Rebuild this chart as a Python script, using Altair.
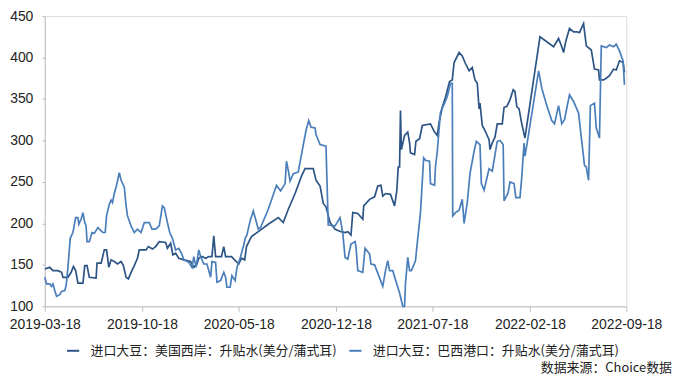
import altair as alt
import pandas as pd

# ---- data ----
series_names = [
    "进口大豆：美国西岸：升贴水(美分/蒲式耳)",
    "进口大豆：巴西港口：升贴水(美分/蒲式耳)",
]
series_colors = ["#2C5485", "#4A7EBB"]

us_dates = [
    "2019-03-18", "2019-03-29", "2019-04-05", "2019-04-16", "2019-04-24", "2019-04-27",
    "2019-05-08", "2019-05-15", "2019-05-20", "2019-05-25", "2019-05-30", "2019-06-10",
    "2019-06-14", "2019-06-19", "2019-06-24", "2019-07-09", "2019-07-11", "2019-07-20",
    "2019-07-27", "2019-08-01", "2019-08-06", "2019-08-11", "2019-08-18", "2019-08-25",
    "2019-09-02", "2019-09-07", "2019-09-13", "2019-09-18", "2019-09-24", "2019-10-01",
    "2019-10-08", "2019-10-12", "2019-10-27", "2019-11-01", "2019-11-10", "2019-11-17",
    "2019-11-25", "2019-12-09", "2019-12-13", "2019-12-20", "2019-12-25", "2019-12-31",
    "2020-01-07", "2020-01-18", "2020-02-02", "2020-02-09", "2020-02-16", "2020-02-20",
    "2020-02-27", "2020-03-06", "2020-03-13", "2020-03-20", "2020-03-24", "2020-03-28",
    "2020-04-10", "2020-04-15", "2020-04-19", "2020-05-02", "2020-05-18", "2020-05-24",
    "2020-05-31", "2020-06-04", "2020-06-15", "2020-06-30", "2020-07-22", "2020-08-13",
    "2020-08-24", "2020-09-04", "2020-09-19", "2020-10-03", "2020-10-11", "2020-10-29",
    "2020-11-04", "2020-11-13", "2020-11-20", "2020-11-26", "2020-12-05", "2020-12-16",
    "2020-12-29", "2021-01-07", "2021-01-13", "2021-01-20", "2021-01-24", "2021-02-04",
    "2021-02-15", "2021-02-17", "2021-03-02", "2021-03-13", "2021-03-20", "2021-03-27",
    "2021-03-31", "2021-04-06", "2021-04-17", "2021-04-26", "2021-05-01", "2021-05-04",
    "2021-05-07", "2021-05-09", "2021-05-11", "2021-05-18", "2021-05-25", "2021-05-29",
    "2021-05-31", "2021-06-09", "2021-06-12", "2021-06-20", "2021-06-26", "2021-07-14",
    "2021-07-23", "2021-07-29", "2021-08-02", "2021-08-09", "2021-08-16", "2021-08-25",
    "2021-08-31", "2021-09-04", "2021-09-15", "2021-09-22", "2021-09-28", "2021-10-07",
    "2021-10-14", "2021-10-20", "2021-10-25", "2021-10-29", "2021-10-31", "2021-11-05",
    "2021-11-11", "2021-11-20", "2021-11-22", "2021-11-27", "2021-12-03", "2021-12-08",
    "2021-12-19", "2021-12-23", "2021-12-29", "2022-01-05", "2022-01-12", "2022-01-16",
    "2022-01-20", "2022-01-25", "2022-01-31", "2022-02-07", "2022-03-12", "2022-04-11",
    "2022-04-22", "2022-04-29", "2022-05-03", "2022-05-08", "2022-05-16", "2022-05-25",
    "2022-06-01", "2022-06-07", "2022-06-16", "2022-06-22", "2022-07-03", "2022-07-10",
    "2022-07-19", "2022-07-21", "2022-07-30", "2022-08-05", "2022-08-12", "2022-08-21",
    "2022-08-27", "2022-09-03", "2022-09-11", "2022-09-14",
]
us_values = [
    145, 147, 143, 143, 141, 135,
    135, 141, 148, 143, 128, 128,
    149, 149, 135, 134, 152, 152,
    168, 168, 147, 156, 154, 151,
    154, 149, 135, 133, 141, 149,
    158, 168, 168, 172, 169, 172,
    178, 177, 170, 176, 162, 164,
    158, 156, 154, 147, 151, 158,
    160, 158, 160, 160, 185, 160,
    160, 172, 160, 160, 151, 158,
    156, 172, 184, 190, 199, 207,
    201, 217, 236, 257, 266, 266,
    252, 245, 224, 220, 201, 193,
    190, 189, 190, 186, 213, 212,
    205, 221, 229, 232, 245, 246,
    233, 236, 235, 221, 240, 268,
    268, 336, 289, 306, 310, 297,
    285, 283, 299, 302, 318, 320,
    310, 306, 322, 340, 352, 371,
    373, 394, 406, 402, 394, 384,
    388, 373, 369, 338, 345, 318,
    312, 301, 289, 297, 304, 320,
    320, 340, 341, 349, 361, 359,
    341, 338, 320, 303, 425, 413,
    423, 413, 406, 420, 435, 431,
    431, 430, 441, 414, 409, 386,
    385, 373, 373, 375, 378, 386,
    385, 396, 394, 382,
]

br_dates = [
    "2019-03-18", "2019-03-22", "2019-03-29", "2019-04-02", "2019-04-05", "2019-04-09",
    "2019-04-13", "2019-04-20", "2019-04-24", "2019-05-01", "2019-05-04", "2019-05-08",
    "2019-05-13", "2019-05-19", "2019-05-25", "2019-05-30", "2019-06-01", "2019-06-06",
    "2019-06-10", "2019-06-14", "2019-06-17", "2019-06-19", "2019-06-24", "2019-06-30",
    "2019-07-05", "2019-07-13", "2019-07-20", "2019-07-24", "2019-07-29", "2019-08-01",
    "2019-08-07", "2019-08-11", "2019-08-14", "2019-08-18", "2019-08-23", "2019-08-29",
    "2019-09-02", "2019-09-09", "2019-09-13", "2019-09-16", "2019-09-24", "2019-10-01",
    "2019-10-08", "2019-10-16", "2019-10-23", "2019-11-03", "2019-11-09", "2019-11-17",
    "2019-11-25", "2019-12-02", "2019-12-06", "2019-12-13", "2019-12-18", "2019-12-24",
    "2019-12-31", "2020-01-07", "2020-01-13", "2020-01-18", "2020-01-29", "2020-02-05",
    "2020-02-09", "2020-02-14", "2020-02-20", "2020-02-24", "2020-03-02", "2020-03-09",
    "2020-03-17", "2020-03-20", "2020-03-28", "2020-03-31", "2020-04-08", "2020-04-15",
    "2020-04-19", "2020-04-22", "2020-04-29", "2020-05-03", "2020-05-10", "2020-05-14",
    "2020-05-21", "2020-05-29", "2020-06-01", "2020-06-05", "2020-06-12", "2020-06-19",
    "2020-06-23", "2020-06-30", "2020-07-05", "2020-07-22", "2020-08-09", "2020-08-18",
    "2020-08-28", "2020-08-31", "2020-09-04", "2020-09-08", "2020-09-15", "2020-09-26",
    "2020-10-03", "2020-10-13", "2020-10-19", "2020-10-24", "2020-11-02", "2020-11-04",
    "2020-11-13", "2020-11-26", "2020-12-01", "2020-12-16", "2020-12-27", "2021-01-02",
    "2021-01-07", "2021-01-13", "2021-01-20", "2021-01-29", "2021-01-31", "2021-02-04",
    "2021-02-15", "2021-02-20", "2021-03-02", "2021-03-05", "2021-03-13", "2021-03-20",
    "2021-03-31", "2021-04-06", "2021-04-11", "2021-04-15", "2021-04-22", "2021-04-28",
    "2021-05-07", "2021-05-14", "2021-05-18", "2021-05-20", "2021-05-25", "2021-05-29",
    "2021-06-02", "2021-06-11", "2021-06-16", "2021-06-22", "2021-06-29", "2021-07-03",
    "2021-07-12", "2021-07-14", "2021-07-23", "2021-07-25", "2021-07-29", "2021-08-05",
    "2021-08-14", "2021-08-20", "2021-08-27", "2021-08-31", "2021-09-01", "2021-09-07",
    "2021-09-15", "2021-09-22", "2021-09-26", "2021-10-03", "2021-10-09", "2021-10-18",
    "2021-10-23", "2021-10-31", "2021-11-03", "2021-11-09", "2021-11-20", "2021-11-27",
    "2021-12-08", "2021-12-14", "2021-12-21", "2021-12-23", "2022-01-01", "2022-01-05",
    "2022-01-14", "2022-01-18", "2022-01-27", "2022-01-31", "2022-02-05", "2022-02-07",
    "2022-02-11", "2022-03-09", "2022-03-16", "2022-03-27", "2022-04-07", "2022-04-13",
    "2022-04-22", "2022-04-29", "2022-05-05", "2022-05-16", "2022-05-25", "2022-06-01",
    "2022-06-05", "2022-06-12", "2022-06-18", "2022-06-22", "2022-06-27", "2022-07-01",
    "2022-07-10", "2022-07-14", "2022-07-21", "2022-07-25", "2022-08-05", "2022-08-12",
    "2022-08-21", "2022-08-27", "2022-09-03", "2022-09-11", "2022-09-14",
]
br_values = [
    135, 127, 127, 124, 127, 119,
    112, 114, 118, 119, 125, 147,
    182, 189, 207, 207, 199, 205,
    213, 201, 197, 178, 178, 189,
    188, 195, 191, 189, 189, 209,
    223, 228, 225, 236, 246, 261,
    252, 244, 221, 209, 197, 189,
    193, 189, 201, 201, 193, 193,
    197, 221, 219, 201, 189, 182,
    168, 170, 164, 156, 153, 147,
    160, 147, 168, 160, 151, 151,
    135, 154, 153, 129, 131, 141,
    135, 123, 123, 137, 131, 147,
    158, 174, 182, 186, 203, 215,
    207, 193, 195, 217, 246, 239,
    248, 275, 264, 251, 260, 262,
    283, 312, 324, 316, 315, 307,
    295, 293, 198, 197, 207, 188,
    159, 157, 175, 178, 172, 143,
    141, 170, 163, 151, 150, 140,
    124, 143, 155, 143, 143, 132,
    116, 100, 100, 128, 159, 143,
    143, 155, 182, 213, 279, 276,
    275, 248, 246, 268, 287, 334,
    345, 353, 369, 369, 209, 213,
    216, 229, 200, 225, 260, 287,
    299, 295, 248, 240, 266, 263,
    299, 300, 295, 227, 237, 250,
    248, 231, 231, 256, 297, 281,
    294, 384, 363, 342, 324, 320,
    342, 320, 325, 355, 347, 338,
    333, 299, 270, 268, 252, 342,
    345, 315, 303, 414, 412, 415,
    413, 416, 408, 396, 367,
]

x_tick_dates = [
    (2019, 3, 18), (2019, 10, 18), (2020, 5, 18), (2020, 12, 18),
    (2021, 7, 18), (2022, 2, 18), (2022, 9, 18),
]
y_ticks = [100, 150, 200, 250, 300, 350, 400, 450]
source_note = ["数据来源：Choice数据"]

# ---- build table ----
df = pd.concat([
    pd.DataFrame({"date": us_dates, "value": us_values, "series": series_names[0]}),
    pd.DataFrame({"date": br_dates, "value": br_values, "series": series_names[1]}),
], ignore_index=True)

tick_dt = [alt.DateTime(year=y, month=m, date=d, utc=True) for (y, m, d) in x_tick_dates]

axis_font = "Liberation Sans"
cjk_font = "Noto Sans CJK SC"

x_enc = alt.X(
    "date:T",
    scale=alt.Scale(type="utc", domain=[tick_dt[0], tick_dt[-1]]),
    axis=alt.Axis(
        values=tick_dt,
        labelExpr="utcFormat(datum.value, '%Y-%m-%d')",
        title=None, grid=False,
        domainColor="#BFBFBF", tickColor="#BFBFBF", tickSize=5,
        labelPadding=6, labelFont=axis_font, labelFontSize=14,
        labelColor="#222222", labelOverlap=False, labelFlush=False,
    ),
)
y_enc = alt.Y(
    "value:Q",
    scale=alt.Scale(domain=[100, 450], nice=False, zero=False),
    axis=alt.Axis(
        values=y_ticks, title=None, grid=False,
        domainColor="#BFBFBF", tickColor="#BFBFBF", tickSize=3,
        labelPadding=9, labelFont=axis_font, labelFontSize=14,
        labelColor="#222222",
    ),
)
color_enc = alt.Color(
    "series:N",
    scale=alt.Scale(domain=series_names, range=series_colors),
    legend=alt.Legend(
        title=None, orient="none", direction="horizontal",
        legendX=21, legendY=329,
        symbolType="stroke", symbolSize=150, symbolStrokeWidth=2,
        labelFont=cjk_font, labelFontSize=13, labelColor="#222222",
        labelOffset=10, columnPadding=8, labelLimit=400,
    ),
)

base = alt.Chart(df).mark_line(strokeWidth=1.7, interpolate="linear").encode(
    x=x_enc, y=y_enc, color=color_enc
)
line_us = base.transform_filter(alt.datum.series == series_names[0])
line_br = base.transform_filter(alt.datum.series == series_names[1])

note = alt.Chart(pd.DataFrame({"t": source_note})).mark_text(
    align="right", baseline="middle", font=cjk_font, fontSize=13, color="#222222"
).encode(text="t:N", x=alt.value(631), y=alt.value(354))

chart = alt.layer(line_us, line_br, note).properties(
    width=585, height=292,
    padding={"left": 37, "top": 7, "right": 46, "bottom": 69},
    autosize=alt.AutoSizeParams(type="none"),
).configure_view(stroke=None).configure(background="white")

chart.save("out.html", embed_options={"renderer": "svg", "actions": False})
